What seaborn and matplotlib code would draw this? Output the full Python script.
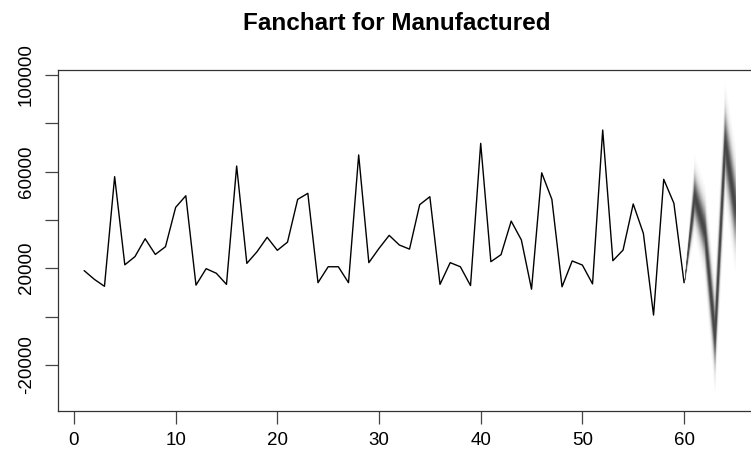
import numpy as np
import pandas as pd
import matplotlib
matplotlib.use("Agg")
import matplotlib.pyplot as plt
import seaborn as sns

# ---- data ----
time = list(range(1, 61))
manufactured = [19000, 15400, 12500, 57900, 21400, 24800, 32200, 25700, 28900, 45200,
                50000, 13000, 19800, 17900, 13300, 62300, 22000, 26800, 32800, 27400,
                30800, 48500, 51000, 14000, 20600, 20600, 14000, 66900, 22300, 28200,
                33600, 29600, 27900, 46300, 49600, 13300, 22300, 20600, 12800, 71700,
                22700, 25600, 39500, 31700, 11300, 59500, 48500, 12300, 23000, 21300,
                13500, 77200, 23100, 27500, 46600, 34400, 600, 56800, 46900, 14000]
fc_time = [60, 61, 62, 63, 64, 65]
fc_median = [14000, 50000, 35500, -8000, 72000, 45000]
fc_sd = [0, 6000, 7000, 8500, 9000, 9500]

x_ticks = [0, 10, 20, 30, 40, 50, 60]
y_ticks = [100000, 80000, 60000, 40000, 20000, 0, -20000]
y_ticklabels = ["100000", "", "60000", "", "20000", "", "-20000"]
title = "Fanchart for Manufactured"

sns.set_style("ticks")
plt.rcParams["font.family"] = ["Liberation Sans", "DejaVu Sans"]

W, H = 751, 465
fig = plt.figure(figsize=(W / 100, H / 100), dpi=100)
left, right = 57.7 / W, 771.5 / W
bottom, top = 1 - 411 / H, 1 - 70 / H
ax = fig.add_axes([left, bottom, right - left, top - bottom])

# fan: opaque bands, outer (light) to inner (dark)
fc_t = np.array(fc_time, dtype=float)
fc_m = np.array(fc_median, dtype=float)
fc_s = np.array(fc_sd, dtype=float)
zlevels = np.linspace(2.8, 0.02, 70)
for z in zlevels:
    g = 1 - 0.72 * np.exp(-z ** 2 / 1.8)
    ax.fill_between(fc_t, fc_m - z * fc_s, fc_m + z * fc_s,
                    color=(g, g, g), linewidth=0, zorder=1)

df = pd.DataFrame({"t": time, "v": manufactured})
sns.lineplot(data=df, x="t", y="v", ax=ax, color="black", linewidth=1.0, zorder=3)

ax.set_xlim(-1.6, 68.6)
ax.set_ylim(-39130, 102070)
ax.set_xticks(x_ticks)
ax.set_xticklabels([str(v) for v in x_ticks])
ax.set_yticks(y_ticks)
ax.set_yticklabels(y_ticklabels, rotation=90, va="center")
ax.set_xlabel("")
ax.set_ylabel("")
ax.tick_params(axis="both", direction="out", length=9.3, width=0.9,
               bottom=True, left=True, top=False, right=False,
               color="#444444", labelsize=13.5, labelcolor="black")
ax.tick_params(axis="x", pad=6)
ax.tick_params(axis="y", pad=7)
for sp in ax.spines.values():
    sp.set_visible(True)
    sp.set_color("#333333")
    sp.set_linewidth(0.9)

fig.text(0.5 * (241 + 553) / W, 1 - 24 / H, title, ha="center", va="center",
         fontsize=17.5, fontweight="bold", color="black")

fig.savefig("out.png", dpi=100)
